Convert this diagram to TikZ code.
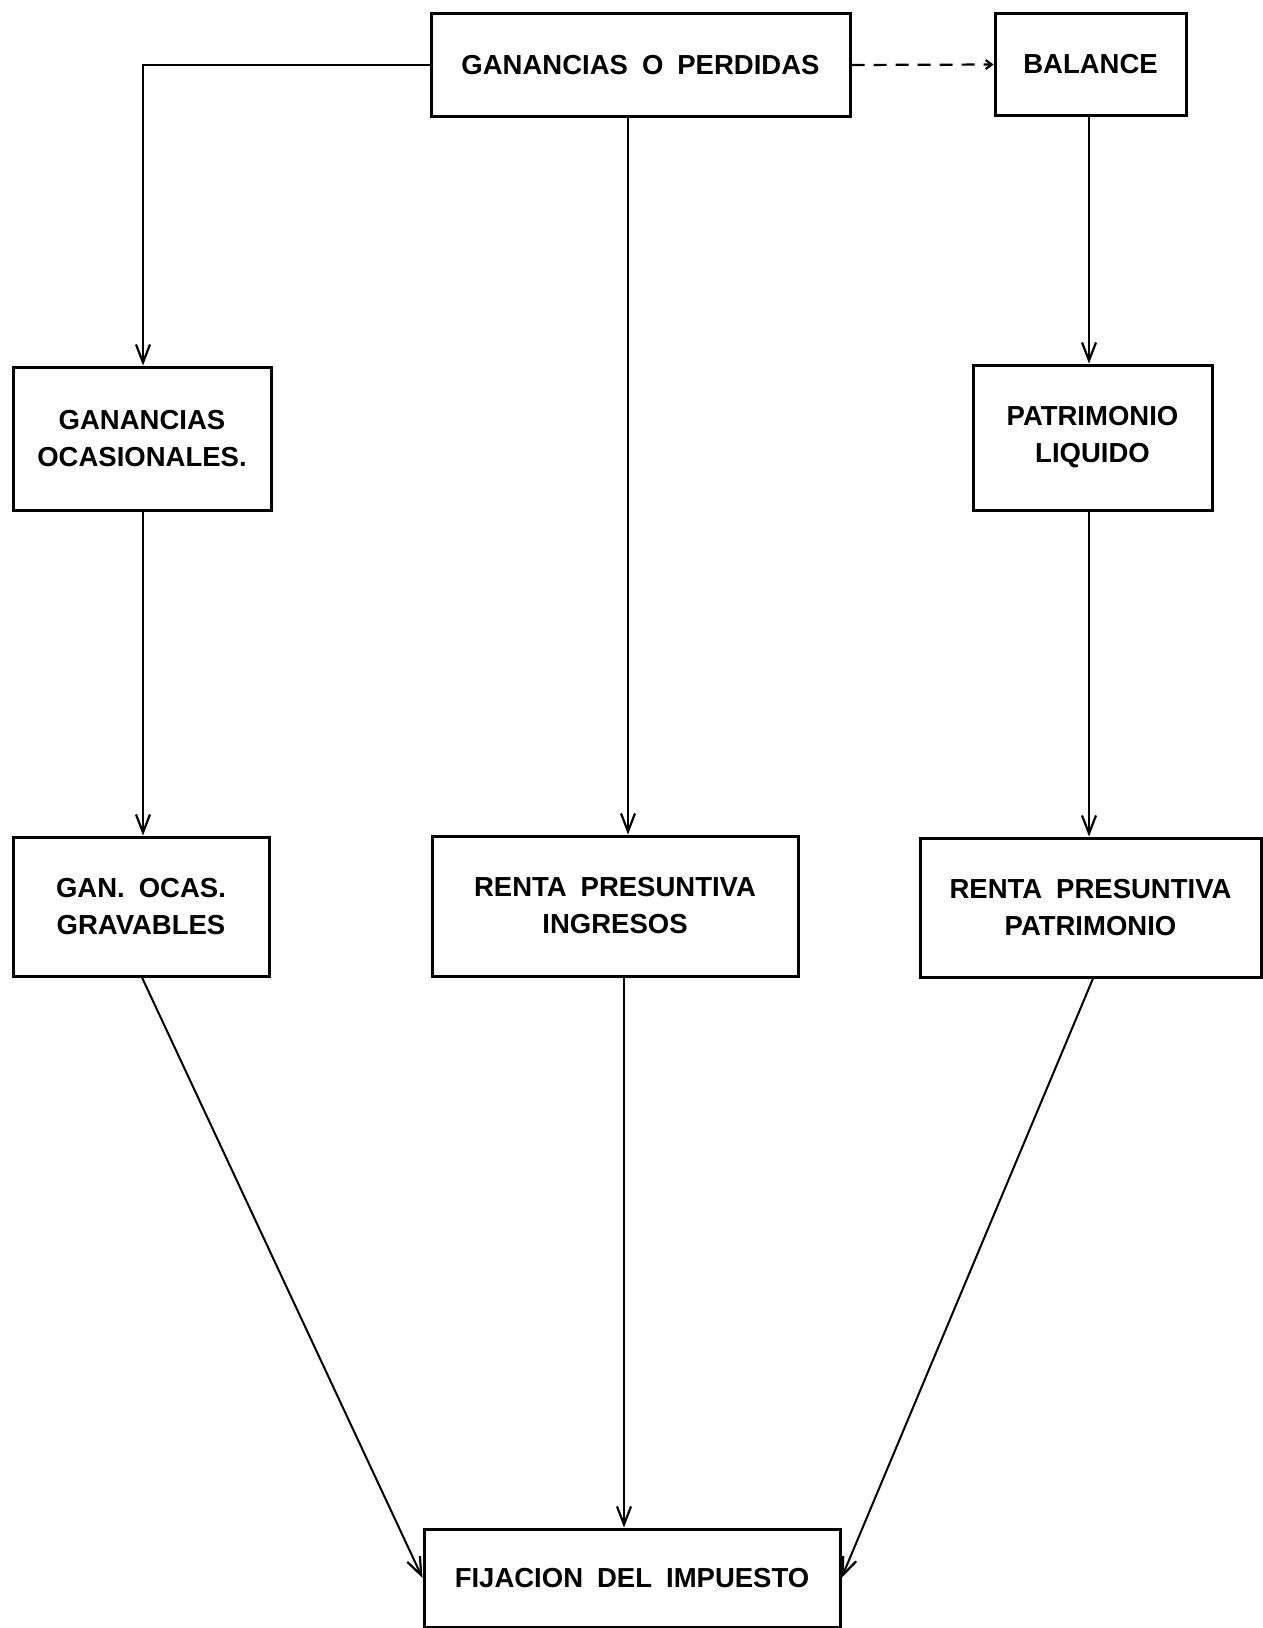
\documentclass[tikz,border=0pt]{standalone}
\usepackage{fontspec}
\setmainfont{Liberation Sans}
\usetikzlibrary{arrows.meta}
\newcommand\lettering{\fontsize{27.5}{37}\selectfont\bfseries\spaceskip=14pt\relax}
\begin{document}
\begin{tikzpicture}[x=1pt,y=-1pt,
  box/.style={draw,line width=3pt,inner sep=0pt,align=center,font=\lettering},
  link/.style={line width=2pt,-{Straight Barb[length=18pt,width=14pt,line width=2.2pt]}},
  weak/.style={line width=2.2pt,dashed,dash pattern=on 13pt off 9pt,-{Straight Barb[length=6pt,width=9pt]}}]
\useasboundingbox[fill=white] (0,0) rectangle (1263,1628);

% boxes
\node[box,minimum width=419pt,minimum height=103pt] (gp)  at (640.5,65)   {GANANCIAS O PERDIDAS};
\node[box,minimum width=191pt,minimum height=102pt] (bal) at (1090.5,64.5) {BALANCE};
\node[box,minimum width=258pt,minimum height=143pt] (go)  at (142,438.5)  {GANANCIAS\\OCASIONALES.};
\node[box,minimum width=239pt,minimum height=145pt] (pl)  at (1092.5,437.5) {PATRIMONIO\\LIQUIDO};
\node[box,minimum width=256pt,minimum height=139pt] (gog) at (141,906.5)  {GAN. OCAS.\\GRAVABLES};
\node[box,minimum width=366pt,minimum height=140pt] (rpi) at (615,906)    {RENTA PRESUNTIVA\\INGRESOS};
\node[box,minimum width=341pt,minimum height=139pt] (rpp) at (1090.5,907.5) {RENTA PRESUNTIVA\\PATRIMONIO};
\node[box,minimum width=416pt,minimum height=98pt]  (fi)  at (632,1578)   {FIJACION DEL IMPUESTO};

% column guides for the vertical connectors
\coordinate (cl) at (143,0);
\coordinate (cm) at (628,0);
\coordinate (cn) at (624,0);
\coordinate (cr) at (1089,0);
\coordinate (gs) at (142,0);
\coordinate (ps) at (1093,0);

% connectors
\draw[weak] (gp.east) -- (bal.west);
\draw[link] (gp.west) -| (go.north -| cl);
\draw[link] (gp.south -| cm) -- (rpi.north -| cm);
\draw[link] (bal.south -| cr) -- (pl.north -| cr);
\draw[link] (go.south -| cl) -- (gog.north -| cl);
\draw[link] (pl.south -| cr) -- (rpp.north -| cr);
\draw[link] (gog.south -| gs) -- (fi.west);
\draw[link] (rpi.south -| cn) -- (fi.north -| cn);
\draw[link] (rpp.south -| ps) -- (fi.east);
\end{tikzpicture}
\end{document}
